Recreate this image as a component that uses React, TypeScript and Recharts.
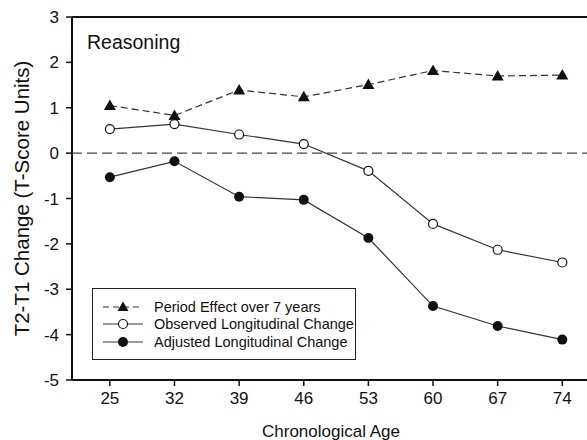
import React from 'react';
import {
    LineChart,
    Line,
    XAxis,
    YAxis,
    ReferenceLine,
} from 'recharts';

// Chronological age groups (x axis)
const AGES = [25, 32, 39, 46, 53, 60, 67, 74];

// Series values (T-score units)
const PERIOD_EFFECT = [1.05, 0.83, 1.39, 1.24, 1.51, 1.82, 1.70, 1.72];
const OBSERVED_CHANGE = [0.53, 0.64, 0.41, 0.20, -0.39, -1.56, -2.13, -2.41];
const ADJUSTED_CHANGE = [-0.53, -0.18, -0.96, -1.03, -1.87, -3.37, -3.81, -4.11];

const Y_TICKS = [-5, -4, -3, -2, -1, 0, 1, 2, 3];

const data = AGES.map((age, i) => ({
    age,
    period: PERIOD_EFFECT[i],
    observed: OBSERVED_CHANGE[i],
    adjusted: ADJUSTED_CHANGE[i],
}));

const INK = '#111';
const LINE_INK = '#333';
const FONT = '"Liberation Sans", Arial, sans-serif';

type DotProps = { cx?: number; cy?: number; index?: number };

const TriangleDot = ({ cx = 0, cy = 0, index }: DotProps) => (
    <polygon
        key={`tri-${index}`}
        points={`${cx},${cy - 6} ${cx - 6},${cy + 4.5} ${cx + 6},${cy + 4.5}`}
        fill={INK}
    />
);

const OpenDot = ({ cx = 0, cy = 0, index }: DotProps) => (
    <circle key={`open-${index}`} cx={cx} cy={cy} r={4.5} fill="#fff" stroke={INK} strokeWidth={1.2} />
);

const FilledDot = ({ cx = 0, cy = 0, index }: DotProps) => (
    <circle key={`fill-${index}`} cx={cx} cy={cy} r={5} fill={INK} />
);

const legendItems = [
    { label: 'Period Effect over 7 years', dash: '6 4', marker: 'tri' },
    { label: 'Observed Longitudinal Change', dash: undefined, marker: 'open' },
    { label: 'Adjusted Longitudinal Change', dash: undefined, marker: 'fill' },
];

const LegendBox = () => (
    <div
        style={{
            position: 'absolute',
            left: 92,
            top: 288,
            width: 264,
            height: 72,
            border: '1.5px solid #222',
            background: '#fff',
            boxSizing: 'border-box',
            padding: '9px 0 0 9px',
            fontFamily: FONT,
            fontSize: 14.5,
            color: INK,
            zIndex: 2,
        }}
    >
        {legendItems.map((item) => (
            <div key={item.label} style={{ display: 'flex', alignItems: 'center', height: 17.5 }}>
                <svg width={44} height={14} style={{ marginRight: 8 }}>
                    <line x1={1} y1={7} x2={41} y2={7} stroke={LINE_INK} strokeWidth={1.2} strokeDasharray={item.dash} />
                    {item.marker === 'tri' && <polygon points="21,1.5 15.5,11 26.5,11" fill={INK} />}
                    {item.marker === 'open' && <circle cx={21} cy={7} r={4.5} fill="#fff" stroke={INK} strokeWidth={1.2} />}
                    {item.marker === 'fill' && <circle cx={21} cy={7} r={5} fill={INK} />}
                </svg>
                <span>{item.label}</span>
            </div>
        ))}
    </div>
);

export default function App() {
    return (
        <div style={{ position: 'absolute', left: 0, top: 0, width: 587, height: 440, overflow: 'hidden', background: '#fff' }}>
            <div
                style={{
                    position: 'absolute',
                    left: 87,
                    top: 31,
                    fontFamily: FONT,
                    fontSize: 19.5,
                    color: INK,
                    zIndex: 2,
                }}
            >
                Reasoning
            </div>
            <LegendBox />
            <LineChart
                width={600}
                height={440}
                data={data}
                margin={{ top: 17, right: 10, left: 0, bottom: 0 }}
                style={{ fontFamily: FONT }}
            >
                <XAxis
                    dataKey="age"
                    type="number"
                    domain={[20.9, 77]}
                    ticks={AGES}
                    allowDataOverflow
                    height={60}
                    tickSize={6}
                    tickMargin={6}
                    axisLine={{ stroke: INK, strokeWidth: 2 }}
                    tickLine={{ stroke: INK, strokeWidth: 1.5 }}
                    tick={{ fill: INK, fontSize: 17 }}
                    label={{ value: 'Chronological Age', position: 'insideBottom', offset: 3, fill: INK, fontSize: 17 }}
                />
                <YAxis
                    type="number"
                    domain={[-5, 3]}
                    ticks={Y_TICKS}
                    width={72}
                    tickSize={6}
                    tickMargin={7}
                    axisLine={{ stroke: INK, strokeWidth: 2 }}
                    tickLine={{ stroke: INK, strokeWidth: 1.5 }}
                    tick={{ fill: INK, fontSize: 17 }}
                    label={{
                        value: 'T2-T1 Change (T-Score Units)',
                        angle: -90,
                        position: 'insideLeft',
                        offset: 22,
                        fill: INK,
                        fontSize: 20.5,
                        style: { textAnchor: 'middle' },
                    }}
                />
                <ReferenceLine y={3} stroke={INK} strokeWidth={2} />
                <ReferenceLine y={0} stroke="#444" strokeWidth={1.3} strokeDasharray="10 5" />
                <Line
                    dataKey="period"
                    stroke={LINE_INK}
                    strokeWidth={1.2}
                    strokeDasharray="7 4"
                    dot={TriangleDot}
                    isAnimationActive={false}
                />
                <Line
                    dataKey="observed"
                    stroke={LINE_INK}
                    strokeWidth={1.2}
                    dot={OpenDot}
                    isAnimationActive={false}
                />
                <Line
                    dataKey="adjusted"
                    stroke={LINE_INK}
                    strokeWidth={1.2}
                    dot={FilledDot}
                    isAnimationActive={false}
                />
            </LineChart>
        </div>
    );
}
